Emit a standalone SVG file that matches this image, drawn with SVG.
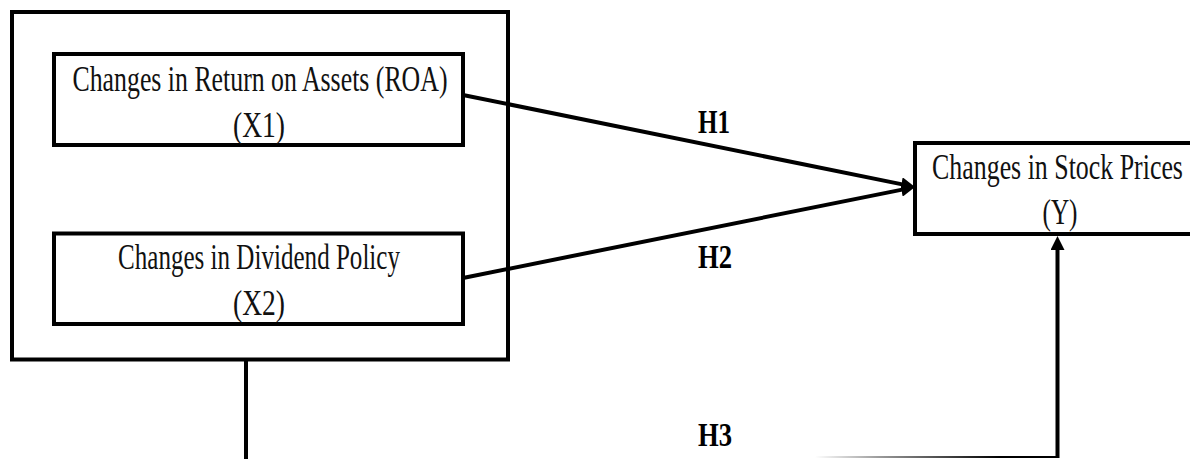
<svg xmlns="http://www.w3.org/2000/svg" width="1190" height="459" viewBox="0 0 1190 459">
  <style>
    .box { fill: #ffffff; stroke: #000000; stroke-width: 4; }
    .lbl { font-family: "Liberation Serif", "Times New Roman", serif; font-size: 35px; fill: #111111; text-anchor: middle; }
    .hyp { font-family: "Liberation Serif", "Times New Roman", serif; font-size: 33px; font-weight: bold; fill: #000000; text-anchor: middle; }
    .conn { fill: none; stroke: #000000; stroke-width: 4; }
  </style>
  <defs>
    <marker id="arrow" viewBox="0 0 14 14" markerWidth="14" markerHeight="14" refX="6" refY="7" orient="auto" markerUnits="userSpaceOnUse">
      <path d="M0,0 L14,7 L0,14 z" fill="#000000"/>
    </marker>
    <linearGradient id="fade" gradientUnits="userSpaceOnUse" x1="815" y1="0" x2="1000" y2="0">
      <stop offset="0" stop-color="#ffffff"/>
      <stop offset="0.35" stop-color="#9a9a9a"/>
      <stop offset="1" stop-color="#000000"/>
    </linearGradient>
  </defs>
  <rect x="0" y="0" width="1190" height="459" fill="#ffffff"/>

  <g id="group-outer">
    <rect class="box" x="12" y="12" width="496" height="347.5"/>
  </g>

  <g id="node-x1">
    <rect class="box" x="54" y="54" width="409" height="91"/>
    <text class="lbl" x="260" y="91" textLength="375" lengthAdjust="spacingAndGlyphs">Changes in Return on Assets (ROA)</text>
    <text class="lbl" x="259" y="137" textLength="52" lengthAdjust="spacingAndGlyphs">(X1)</text>
  </g>

  <g id="node-x2">
    <rect class="box" x="54" y="233.5" width="409" height="90.5"/>
    <text class="lbl" x="259" y="269" textLength="282" lengthAdjust="spacingAndGlyphs">Changes in Dividend Policy</text>
    <text class="lbl" x="259" y="315" textLength="52" lengthAdjust="spacingAndGlyphs">(X2)</text>
  </g>

  <g id="node-y">
    <path class="box" d="M1192,143 H915 V234 H1192"/>
    <text class="lbl" transform="translate(1057.5,179) scale(0.74,1)" x="0" y="0">Changes in Stock Prices</text>
    <text class="lbl" x="1060" y="224" textLength="35" lengthAdjust="spacingAndGlyphs">(Y)</text>
  </g>

  <g id="connectors">
    <g id="c-h1">
      <line class="conn" x1="463" y1="95" x2="907.2" y2="185.4" marker-end="url(#arrow)"/>
      <text class="hyp" x="714" y="133" textLength="32" lengthAdjust="spacingAndGlyphs">H1</text>
    </g>
    <g id="c-h2">
      <line class="conn" x1="463" y1="278" x2="907.2" y2="188.6" marker-end="url(#arrow)"/>
      <text class="hyp" x="715" y="268" textLength="34" lengthAdjust="spacingAndGlyphs">H2</text>
    </g>
    <g id="c-h3">
      <line class="conn" x1="246" y1="359" x2="246" y2="459"/>
      <line x1="815" y1="457" x2="1058" y2="457" stroke="url(#fade)" stroke-width="2.2"/>
      <line class="conn" x1="1057.5" y1="458" x2="1057.5" y2="244" stroke-width="3.2" marker-end="url(#arrow)"/>
      <text class="hyp" x="715" y="446" textLength="34" lengthAdjust="spacingAndGlyphs">H3</text>
    </g>
  </g>
</svg>
